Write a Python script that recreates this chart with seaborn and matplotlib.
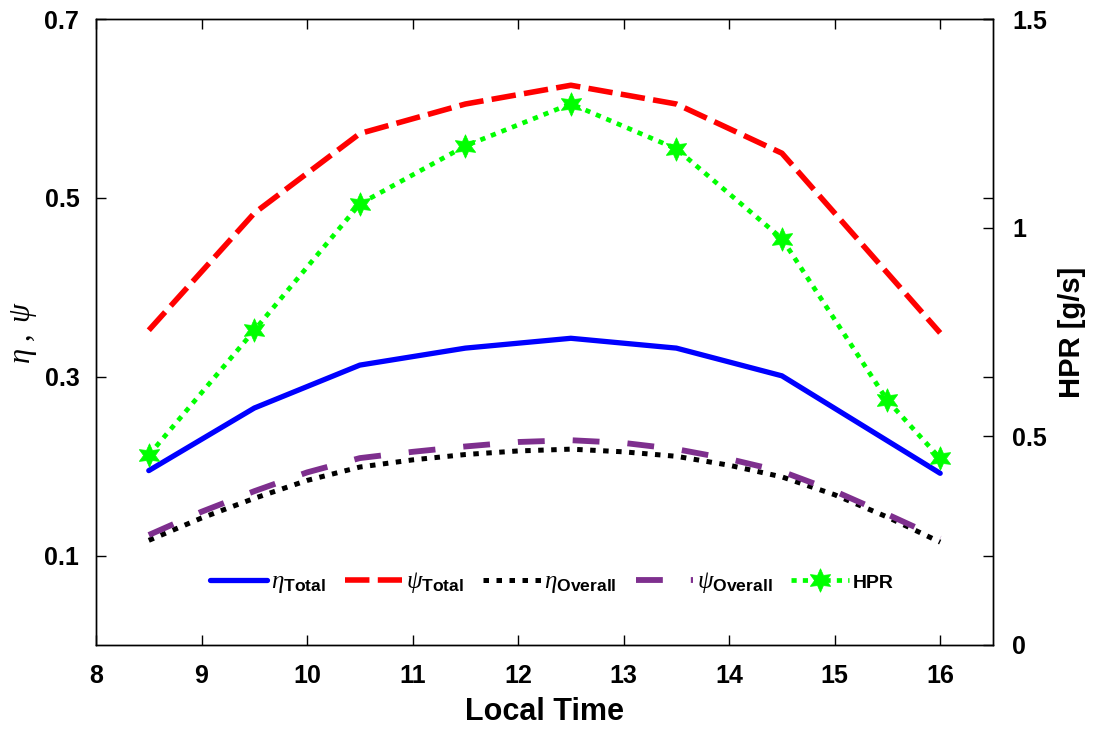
import numpy as np
import pandas as pd
import matplotlib
matplotlib.use("Agg")
import matplotlib.pyplot as plt
import seaborn as sns

# ---------------- data ----------------
hours = [8.5, 9.5, 10.5, 11.5, 12.5, 13.5, 14.5, 16]
eta_total = [0.195, 0.265, 0.313, 0.332, 0.343, 0.332, 0.301, 0.192]
psi_total = [0.352, 0.483, 0.572, 0.605, 0.626, 0.605, 0.550, 0.349]

hours_fine = [8.5, 9, 9.5, 10, 10.5, 11, 11.5, 12, 12.5, 13, 13.5, 14, 14.5, 15, 15.5, 16]
eta_overall = [0.117, 0.142, 0.164, 0.184, 0.199, 0.207, 0.213, 0.217, 0.219,
               0.216, 0.211, 0.201, 0.188, 0.168, 0.143, 0.115]
psi_overall = [0.123, 0.149, 0.172, 0.193, 0.209, 0.216, 0.222, 0.227, 0.229,
               0.226, 0.219, 0.208, 0.194, 0.172, 0.146, 0.119]

hpr_hours = [8.5, 9.5, 10.5, 11.5, 12.5, 13.5, 14.5, 15.5, 16]
hpr = [0.455, 0.754, 1.057, 1.196, 1.297, 1.189, 0.974, 0.586, 0.447]

x_ticks = [8, 9, 10, 11, 12, 13, 14, 15, 16]
left_ticks = [0.1, 0.3, 0.5, 0.7]
left_ticklabels = ["0.1", "0.3", "0.5", "0.7"]
right_ticks = [0, 0.5, 1, 1.5]
right_ticklabels = ["0", "0.5", "1", "1.5"]

labels = [r"$\eta_{\mathbf{Total}}$", r"$\psi_{\mathbf{Total}}$",
          r"$\eta_{\mathbf{Overall}}$", r"$\psi_{\mathbf{Overall}}$", "HPR"]

df_main = pd.DataFrame({"t": hours, "eta_total": eta_total, "psi_total": psi_total})
df_fine = pd.DataFrame({"t": hours_fine, "eta_overall": eta_overall, "psi_overall": psi_overall})
df_hpr = pd.DataFrame({"t": hpr_hours, "hpr": hpr})

# ---------------- style ----------------
sns.set_style("white")
plt.rcParams["font.family"] = ["Liberation Sans", "DejaVu Sans"]
plt.rcParams["text.color"] = "black"
plt.rcParams["axes.labelcolor"] = "black"
plt.rcParams["xtick.color"] = "black"
plt.rcParams["ytick.color"] = "black"
plt.rcParams["mathtext.fontset"] = "custom"
plt.rcParams["mathtext.it"] = "Liberation Serif:style=italic:weight=normal"
plt.rcParams["mathtext.rm"] = "Liberation Serif:weight=normal"
plt.rcParams["mathtext.bf"] = "Liberation Sans:weight=bold"
plt.rcParams["axes.edgecolor"] = "black"
plt.rcParams["axes.linewidth"] = 1.0

fig = plt.figure(figsize=(10.95, 7.34), dpi=100)
ax = fig.add_axes([0.0877, 0.1213, 0.8191, 0.8527])
ax2 = ax.twinx()

c_blue, c_red, c_black, c_purple, c_green = "#0000FF", "#FF0000", "#000000", "#7E2F8E", "#00FF00"

sns.lineplot(data=df_main, x="t", y="eta_total", ax=ax, color=c_blue, lw=3.8,
             linestyle="-", solid_joinstyle="miter")
sns.lineplot(data=df_main, x="t", y="psi_total", ax=ax, color=c_red, lw=4.0,
             linestyle=(0, (4.4, 1.5)), dash_capstyle="butt")
sns.lineplot(data=df_fine, x="t", y="eta_overall", ax=ax, color=c_black, lw=3.6,
             linestyle=(0, (1.1, 1.5)), dash_capstyle="butt")
sns.lineplot(data=df_fine, x="t", y="psi_overall", ax=ax, color=c_purple, lw=4.2,
             linestyle=(0, (4.6, 4.8)), dash_capstyle="butt")
sns.lineplot(data=df_hpr, x="t", y="hpr", ax=ax2, color=c_green, lw=3.4,
             linestyle=(0, (1.1, 1.3)), dash_capstyle="butt",
             marker=(6, 1, 0), markersize=17, mfc=c_green, mec=c_green, mew=0.5)

# ---------------- axes ----------------
ax.set_xlim(8, 16.5)
ax.set_ylim(0, 0.7)
ax2.set_ylim(0, 1.5)
ax.set_xticks(x_ticks)
ax.set_xticklabels([str(v) for v in x_ticks])
ax.set_yticks(left_ticks)
ax.set_yticklabels(left_ticklabels)
ax2.set_yticks(right_ticks)
ax2.set_yticklabels(right_ticklabels)

ax.tick_params(axis="x", direction="in", length=7, width=1, top=True, bottom=True,
               labelsize=18, pad=14, colors="black")
ax.tick_params(axis="y", direction="in", length=7, width=1, left=True, right=True,
               labelsize=18, pad=12, colors="black")
ax2.tick_params(axis="y", direction="in", length=7, width=1, right=True,
                labelsize=18, pad=14, colors="black")
for lab in ax.get_xticklabels() + ax.get_yticklabels() + ax2.get_yticklabels():
    lab.set_fontweight("bold")

ax.set_xlabel("Local Time", fontsize=22, fontweight="bold", labelpad=6)
ax.set_ylabel(r"$\eta\ ,\ \psi$", fontsize=22)
ax.yaxis.set_label_coords(-0.064, 0.5)
ax2.set_ylabel("HPR [g/s]", fontsize=21, fontweight="bold")
ax2.yaxis.set_label_coords(1.072, 0.5)

for sp in list(ax.spines.values()) + list(ax2.spines.values()):
    sp.set_color("black")
    sp.set_linewidth(1.0)

# ---------------- legend ----------------
handles = ax.get_lines()[:4] + ax2.get_lines()[:1]
leg = ax.legend(handles, labels, loc="center", bbox_to_anchor=(0.508, 0.10), ncol=5,
                frameon=False, fontsize=18, handlelength=2.3, handletextpad=0.15,
                columnspacing=0.75, borderaxespad=0)
leg.get_texts()[4].set_fontsize(14)
leg.get_texts()[4].set_fontweight("bold")

fig.savefig("out.png", dpi=100)
